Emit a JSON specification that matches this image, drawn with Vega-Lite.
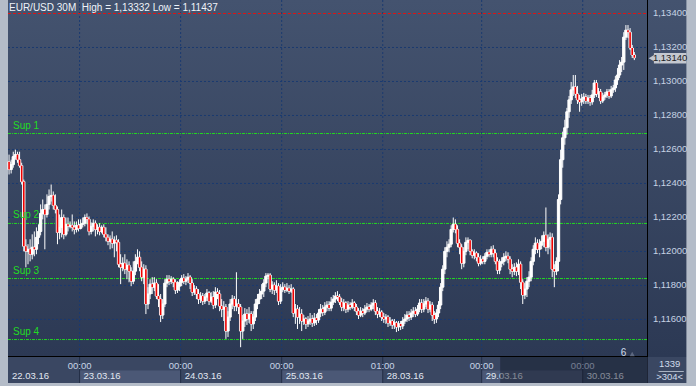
{
"$schema": "https://vega.github.io/schema/vega-lite/v6.json",
"width": 650, "height": 357,
"autosize": "none",
"padding": {"left": 3, "top": 0, "right": 43, "bottom": 29},
"config": {"background": "#b4bcc8", "view": {"stroke": null}, "font": "Liberation Sans", "text": {"font": "Liberation Sans"}},
"datasets": {
"c": [
{"i":0,"o":1.12528,"h":1.1257,"l":1.12453,"c":1.12482},
{"i":1,"o":1.12482,"h":1.1254,"l":1.12459,"c":1.12511},
{"i":2,"o":1.12511,"h":1.12587,"l":1.12493,"c":1.12558},
{"i":3,"o":1.12558,"h":1.12599,"l":1.1254,"c":1.1257},
{"i":4,"o":1.1257,"h":1.12587,"l":1.12522,"c":1.1254},
{"i":5,"o":1.1254,"h":1.12587,"l":1.12493,"c":1.12505},
{"i":6,"o":1.12505,"h":1.12522,"l":1.12394,"c":1.12411},
{"i":7,"o":1.12411,"h":1.12423,"l":1.12001,"c":1.12031},
{"i":8,"o":1.12031,"h":1.12072,"l":1.11907,"c":1.12001},
{"i":9,"o":1.12001,"h":1.12043,"l":1.11925,"c":1.12013},
{"i":10,"o":1.12013,"h":1.12072,"l":1.11942,"c":1.11984},
{"i":11,"o":1.11984,"h":1.12101,"l":1.11954,"c":1.12025},
{"i":12,"o":1.12025,"h":1.12118,"l":1.11972,"c":1.12013},
{"i":13,"o":1.12013,"h":1.12142,"l":1.11984,"c":1.12083},
{"i":14,"o":1.12083,"h":1.1216,"l":1.12043,"c":1.12118},
{"i":15,"o":1.12118,"h":1.12277,"l":1.12095,"c":1.12224},
{"i":16,"o":1.12224,"h":1.12306,"l":1.12189,"c":1.12247},
{"i":17,"o":1.12247,"h":1.12277,"l":1.12013,"c":1.12218},
{"i":18,"o":1.12218,"h":1.12336,"l":1.122,"c":1.12277},
{"i":19,"o":1.12277,"h":1.12365,"l":1.12247,"c":1.12324},
{"i":20,"o":1.12324,"h":1.12394,"l":1.12294,"c":1.1233},
{"i":21,"o":1.1233,"h":1.12353,"l":1.12247,"c":1.12271},
{"i":22,"o":1.12271,"h":1.12336,"l":1.12224,"c":1.12247},
{"i":23,"o":1.12247,"h":1.12265,"l":1.12043,"c":1.12112},
{"i":24,"o":1.12112,"h":1.12218,"l":1.12072,"c":1.12142},
{"i":25,"o":1.12142,"h":1.12247,"l":1.12083,"c":1.122},
{"i":26,"o":1.122,"h":1.12218,"l":1.12072,"c":1.12101},
{"i":27,"o":1.12101,"h":1.122,"l":1.12089,"c":1.1216},
{"i":28,"o":1.1216,"h":1.122,"l":1.12118,"c":1.12148},
{"i":29,"o":1.12148,"h":1.12177,"l":1.12136,"c":1.12154},
{"i":30,"o":1.12154,"h":1.12218,"l":1.12118,"c":1.12142},
{"i":31,"o":1.12142,"h":1.12177,"l":1.12101,"c":1.1213},
{"i":32,"o":1.1213,"h":1.12177,"l":1.12112,"c":1.12154},
{"i":33,"o":1.12154,"h":1.12189,"l":1.12118,"c":1.12136},
{"i":34,"o":1.12136,"h":1.12189,"l":1.1213,"c":1.1216},
{"i":35,"o":1.1216,"h":1.122,"l":1.12142,"c":1.12166},
{"i":36,"o":1.12166,"h":1.12218,"l":1.12148,"c":1.122},
{"i":37,"o":1.122,"h":1.12224,"l":1.1216,"c":1.12189},
{"i":38,"o":1.12189,"h":1.12206,"l":1.12095,"c":1.12118},
{"i":39,"o":1.12118,"h":1.12171,"l":1.12101,"c":1.12148},
{"i":40,"o":1.12148,"h":1.12189,"l":1.12118,"c":1.12166},
{"i":41,"o":1.12166,"h":1.12183,"l":1.12089,"c":1.1213},
{"i":42,"o":1.1213,"h":1.1216,"l":1.12101,"c":1.12142},
{"i":43,"o":1.12142,"h":1.12166,"l":1.12095,"c":1.12118},
{"i":44,"o":1.12118,"h":1.12154,"l":1.12107,"c":1.12142},
{"i":45,"o":1.12142,"h":1.1216,"l":1.12083,"c":1.12101},
{"i":46,"o":1.12101,"h":1.12142,"l":1.1206,"c":1.12083},
{"i":47,"o":1.12083,"h":1.12101,"l":1.12037,"c":1.1206},
{"i":48,"o":1.1206,"h":1.12095,"l":1.12013,"c":1.12072},
{"i":49,"o":1.12072,"h":1.12118,"l":1.12019,"c":1.12049},
{"i":50,"o":1.12049,"h":1.12089,"l":1.11966,"c":1.12066},
{"i":51,"o":1.12066,"h":1.12095,"l":1.12001,"c":1.12054},
{"i":52,"o":1.12054,"h":1.12072,"l":1.11907,"c":1.11925},
{"i":53,"o":1.11925,"h":1.11984,"l":1.11808,"c":1.11907},
{"i":54,"o":1.11907,"h":1.11966,"l":1.11884,"c":1.11931},
{"i":55,"o":1.11931,"h":1.11984,"l":1.11867,"c":1.11896},
{"i":56,"o":1.11896,"h":1.11954,"l":1.11837,"c":1.11919},
{"i":57,"o":1.11919,"h":1.11942,"l":1.11819,"c":1.11884},
{"i":58,"o":1.11884,"h":1.11907,"l":1.11796,"c":1.11825},
{"i":59,"o":1.11825,"h":1.11942,"l":1.11808,"c":1.11884},
{"i":60,"o":1.11884,"h":1.11984,"l":1.11861,"c":1.11942},
{"i":61,"o":1.11942,"h":1.12013,"l":1.11925,"c":1.11966},
{"i":62,"o":1.11966,"h":1.12001,"l":1.11884,"c":1.11907},
{"i":63,"o":1.11907,"h":1.11942,"l":1.11825,"c":1.11849},
{"i":64,"o":1.11849,"h":1.11925,"l":1.11808,"c":1.11896},
{"i":65,"o":1.11896,"h":1.11919,"l":1.11632,"c":1.11691},
{"i":66,"o":1.11691,"h":1.1179,"l":1.11661,"c":1.1175},
{"i":67,"o":1.1175,"h":1.11837,"l":1.1172,"c":1.11808},
{"i":68,"o":1.11808,"h":1.11849,"l":1.1175,"c":1.1179},
{"i":69,"o":1.1179,"h":1.11849,"l":1.11767,"c":1.11814},
{"i":70,"o":1.11814,"h":1.11837,"l":1.1172,"c":1.11738},
{"i":71,"o":1.11738,"h":1.11808,"l":1.11673,"c":1.1172},
{"i":72,"o":1.1172,"h":1.1175,"l":1.11585,"c":1.11626},
{"i":73,"o":1.11626,"h":1.1172,"l":1.11603,"c":1.11691},
{"i":74,"o":1.11691,"h":1.11837,"l":1.11673,"c":1.11814},
{"i":75,"o":1.11814,"h":1.11861,"l":1.1179,"c":1.11837},
{"i":76,"o":1.11837,"h":1.11861,"l":1.11802,"c":1.11825},
{"i":77,"o":1.11825,"h":1.11855,"l":1.11808,"c":1.11837},
{"i":78,"o":1.11837,"h":1.11849,"l":1.1179,"c":1.11819},
{"i":79,"o":1.11819,"h":1.11837,"l":1.1175,"c":1.11773},
{"i":80,"o":1.11773,"h":1.11825,"l":1.11756,"c":1.11796},
{"i":81,"o":1.11796,"h":1.11837,"l":1.11767,"c":1.11819},
{"i":82,"o":1.11819,"h":1.11861,"l":1.11796,"c":1.11843},
{"i":83,"o":1.11843,"h":1.11867,"l":1.11808,"c":1.11825},
{"i":84,"o":1.11825,"h":1.11855,"l":1.11802,"c":1.11837},
{"i":85,"o":1.11837,"h":1.11873,"l":1.11814,"c":1.11849},
{"i":86,"o":1.11849,"h":1.11861,"l":1.11779,"c":1.11814},
{"i":87,"o":1.11814,"h":1.11837,"l":1.11738,"c":1.11761},
{"i":88,"o":1.11761,"h":1.11802,"l":1.11744,"c":1.11779},
{"i":89,"o":1.11779,"h":1.11796,"l":1.1172,"c":1.1175},
{"i":90,"o":1.1175,"h":1.11779,"l":1.11691,"c":1.1172},
{"i":91,"o":1.1172,"h":1.11761,"l":1.11697,"c":1.11738},
{"i":92,"o":1.11738,"h":1.11756,"l":1.11685,"c":1.11708},
{"i":93,"o":1.11708,"h":1.1175,"l":1.11691,"c":1.11732},
{"i":94,"o":1.11732,"h":1.11779,"l":1.11708,"c":1.11756},
{"i":95,"o":1.11756,"h":1.11767,"l":1.11685,"c":1.11708},
{"i":96,"o":1.11708,"h":1.11761,"l":1.11697,"c":1.11732},
{"i":97,"o":1.11732,"h":1.11767,"l":1.11661,"c":1.11685},
{"i":98,"o":1.11685,"h":1.1179,"l":1.11667,"c":1.11761},
{"i":99,"o":1.11761,"h":1.11784,"l":1.1172,"c":1.1175},
{"i":100,"o":1.1175,"h":1.11773,"l":1.11649,"c":1.11679},
{"i":101,"o":1.11679,"h":1.1172,"l":1.11614,"c":1.11661},
{"i":102,"o":1.11661,"h":1.11708,"l":1.11591,"c":1.11673},
{"i":103,"o":1.11673,"h":1.11691,"l":1.11486,"c":1.11532},
{"i":104,"o":1.11532,"h":1.11649,"l":1.11497,"c":1.11614},
{"i":105,"o":1.11614,"h":1.1172,"l":1.11591,"c":1.11691},
{"i":106,"o":1.11691,"h":1.11744,"l":1.11661,"c":1.1172},
{"i":107,"o":1.1172,"h":1.11738,"l":1.11649,"c":1.11679},
{"i":108,"o":1.11679,"h":1.11878,"l":1.11649,"c":1.11691},
{"i":109,"o":1.11691,"h":1.1172,"l":1.11632,"c":1.11673},
{"i":110,"o":1.11673,"h":1.11691,"l":1.11437,"c":1.11532},
{"i":111,"o":1.11532,"h":1.11626,"l":1.11486,"c":1.11591},
{"i":112,"o":1.11591,"h":1.11667,"l":1.11556,"c":1.11632},
{"i":113,"o":1.11632,"h":1.11661,"l":1.11568,"c":1.11603},
{"i":114,"o":1.11603,"h":1.11673,"l":1.1158,"c":1.11632},
{"i":115,"o":1.11632,"h":1.11649,"l":1.11532,"c":1.11574},
{"i":116,"o":1.11574,"h":1.11649,"l":1.11544,"c":1.11614},
{"i":117,"o":1.11614,"h":1.1172,"l":1.11591,"c":1.11691},
{"i":118,"o":1.11691,"h":1.1175,"l":1.11661,"c":1.1172},
{"i":119,"o":1.1172,"h":1.11779,"l":1.11691,"c":1.1175},
{"i":120,"o":1.1175,"h":1.11808,"l":1.1172,"c":1.11767},
{"i":121,"o":1.11767,"h":1.11837,"l":1.11732,"c":1.11814},
{"i":122,"o":1.11814,"h":1.11873,"l":1.1179,"c":1.11855},
{"i":123,"o":1.11855,"h":1.11873,"l":1.11837,"c":1.11861},
{"i":124,"o":1.11861,"h":1.11873,"l":1.11761,"c":1.11779},
{"i":125,"o":1.11779,"h":1.11825,"l":1.1175,"c":1.11802},
{"i":126,"o":1.11802,"h":1.11819,"l":1.11744,"c":1.11773},
{"i":127,"o":1.11773,"h":1.11831,"l":1.11756,"c":1.11796},
{"i":128,"o":1.11796,"h":1.11814,"l":1.11685,"c":1.11708},
{"i":129,"o":1.11708,"h":1.11808,"l":1.11691,"c":1.11779},
{"i":130,"o":1.11779,"h":1.11819,"l":1.11761,"c":1.1179},
{"i":131,"o":1.1179,"h":1.11808,"l":1.11756,"c":1.11773},
{"i":132,"o":1.11773,"h":1.11814,"l":1.11761,"c":1.11784},
{"i":133,"o":1.11784,"h":1.11802,"l":1.1175,"c":1.11767},
{"i":134,"o":1.11767,"h":1.11808,"l":1.11756,"c":1.11779},
{"i":135,"o":1.11779,"h":1.1179,"l":1.11614,"c":1.11638},
{"i":136,"o":1.11638,"h":1.11691,"l":1.11574,"c":1.11661},
{"i":137,"o":1.11661,"h":1.11685,"l":1.11544,"c":1.11614},
{"i":138,"o":1.11614,"h":1.11673,"l":1.11574,"c":1.11632},
{"i":139,"o":1.11632,"h":1.11661,"l":1.11532,"c":1.11591},
{"i":140,"o":1.11591,"h":1.11626,"l":1.11568,"c":1.11603},
{"i":141,"o":1.11603,"h":1.11614,"l":1.11544,"c":1.11574},
{"i":142,"o":1.11574,"h":1.1162,"l":1.11556,"c":1.11591},
{"i":143,"o":1.11591,"h":1.11638,"l":1.11568,"c":1.11603},
{"i":144,"o":1.11603,"h":1.11626,"l":1.11556,"c":1.1158},
{"i":145,"o":1.1158,"h":1.11638,"l":1.11562,"c":1.11608},
{"i":146,"o":1.11608,"h":1.11632,"l":1.11568,"c":1.11597},
{"i":147,"o":1.11597,"h":1.11661,"l":1.1158,"c":1.11638},
{"i":148,"o":1.11638,"h":1.11691,"l":1.11614,"c":1.11661},
{"i":149,"o":1.11661,"h":1.11685,"l":1.1162,"c":1.11643},
{"i":150,"o":1.11643,"h":1.11702,"l":1.11626,"c":1.11673},
{"i":151,"o":1.11673,"h":1.11708,"l":1.11649,"c":1.11685},
{"i":152,"o":1.11685,"h":1.11708,"l":1.11649,"c":1.11667},
{"i":153,"o":1.11667,"h":1.11732,"l":1.11649,"c":1.11702},
{"i":154,"o":1.11702,"h":1.11744,"l":1.11685,"c":1.1172},
{"i":155,"o":1.1172,"h":1.11761,"l":1.11697,"c":1.11738},
{"i":156,"o":1.11738,"h":1.11767,"l":1.11708,"c":1.11732},
{"i":157,"o":1.11732,"h":1.1175,"l":1.11685,"c":1.11702},
{"i":158,"o":1.11702,"h":1.11726,"l":1.11649,"c":1.11673},
{"i":159,"o":1.11673,"h":1.1172,"l":1.11649,"c":1.11697},
{"i":160,"o":1.11697,"h":1.11708,"l":1.11638,"c":1.11661},
{"i":161,"o":1.11661,"h":1.11708,"l":1.11643,"c":1.11685},
{"i":162,"o":1.11685,"h":1.11702,"l":1.11655,"c":1.11673},
{"i":163,"o":1.11673,"h":1.1172,"l":1.11661,"c":1.11697},
{"i":164,"o":1.11697,"h":1.11708,"l":1.11649,"c":1.11673},
{"i":165,"o":1.11673,"h":1.11691,"l":1.11626,"c":1.11649},
{"i":166,"o":1.11649,"h":1.11667,"l":1.11603,"c":1.11626},
{"i":167,"o":1.11626,"h":1.11673,"l":1.11614,"c":1.11649},
{"i":168,"o":1.11649,"h":1.11667,"l":1.11614,"c":1.11638},
{"i":169,"o":1.11638,"h":1.11685,"l":1.11626,"c":1.11661},
{"i":170,"o":1.11661,"h":1.11697,"l":1.11643,"c":1.11673},
{"i":171,"o":1.11673,"h":1.11691,"l":1.11643,"c":1.11661},
{"i":172,"o":1.11661,"h":1.11702,"l":1.11649,"c":1.11685},
{"i":173,"o":1.11685,"h":1.1172,"l":1.11661,"c":1.11697},
{"i":174,"o":1.11697,"h":1.11714,"l":1.11626,"c":1.11649},
{"i":175,"o":1.11649,"h":1.11673,"l":1.11608,"c":1.11632},
{"i":176,"o":1.11632,"h":1.11667,"l":1.11614,"c":1.11643},
{"i":177,"o":1.11643,"h":1.11655,"l":1.11591,"c":1.11614},
{"i":178,"o":1.11614,"h":1.11638,"l":1.1158,"c":1.11603},
{"i":179,"o":1.11603,"h":1.11632,"l":1.11574,"c":1.11614},
{"i":180,"o":1.11614,"h":1.11626,"l":1.11556,"c":1.1158},
{"i":181,"o":1.1158,"h":1.11614,"l":1.11562,"c":1.11591},
{"i":182,"o":1.11591,"h":1.11603,"l":1.11544,"c":1.11568},
{"i":183,"o":1.11568,"h":1.11603,"l":1.11544,"c":1.1158},
{"i":184,"o":1.1158,"h":1.11591,"l":1.11526,"c":1.11556},
{"i":185,"o":1.11556,"h":1.11591,"l":1.11532,"c":1.11574},
{"i":186,"o":1.11574,"h":1.11591,"l":1.11538,"c":1.11562},
{"i":187,"o":1.11562,"h":1.11614,"l":1.11544,"c":1.11591},
{"i":188,"o":1.11591,"h":1.11632,"l":1.11574,"c":1.11603},
{"i":189,"o":1.11603,"h":1.11649,"l":1.11585,"c":1.11626},
{"i":190,"o":1.11626,"h":1.11649,"l":1.11591,"c":1.11614},
{"i":191,"o":1.11614,"h":1.11661,"l":1.11597,"c":1.11638},
{"i":192,"o":1.11638,"h":1.11673,"l":1.11614,"c":1.11649},
{"i":193,"o":1.11649,"h":1.11673,"l":1.11614,"c":1.11632},
{"i":194,"o":1.11632,"h":1.11685,"l":1.1162,"c":1.11661},
{"i":195,"o":1.11661,"h":1.1172,"l":1.11643,"c":1.11697},
{"i":196,"o":1.11697,"h":1.1172,"l":1.11638,"c":1.11661},
{"i":197,"o":1.11661,"h":1.1172,"l":1.11643,"c":1.11691},
{"i":198,"o":1.11691,"h":1.11732,"l":1.11673,"c":1.11708},
{"i":199,"o":1.11708,"h":1.11726,"l":1.11638,"c":1.11661},
{"i":200,"o":1.11661,"h":1.11708,"l":1.11643,"c":1.11685},
{"i":201,"o":1.11685,"h":1.11702,"l":1.11591,"c":1.11626},
{"i":202,"o":1.11626,"h":1.11649,"l":1.11574,"c":1.11603},
{"i":203,"o":1.11603,"h":1.11661,"l":1.1158,"c":1.11638},
{"i":204,"o":1.11638,"h":1.11708,"l":1.11614,"c":1.11685},
{"i":205,"o":1.11685,"h":1.11814,"l":1.11661,"c":1.1179},
{"i":206,"o":1.1179,"h":1.11919,"l":1.11767,"c":1.11896},
{"i":207,"o":1.11896,"h":1.12025,"l":1.11867,"c":1.12001},
{"i":208,"o":1.12001,"h":1.1206,"l":1.11966,"c":1.12025},
{"i":209,"o":1.12025,"h":1.12072,"l":1.11995,"c":1.12043},
{"i":210,"o":1.12043,"h":1.12154,"l":1.12025,"c":1.1213},
{"i":211,"o":1.1213,"h":1.122,"l":1.12112,"c":1.1216},
{"i":212,"o":1.1216,"h":1.12189,"l":1.12107,"c":1.1213},
{"i":213,"o":1.1213,"h":1.12154,"l":1.12025,"c":1.12049},
{"i":214,"o":1.12049,"h":1.12072,"l":1.11984,"c":1.12025},
{"i":215,"o":1.12025,"h":1.12043,"l":1.11896,"c":1.11931},
{"i":216,"o":1.11931,"h":1.12025,"l":1.11907,"c":1.12001},
{"i":217,"o":1.12001,"h":1.12083,"l":1.11978,"c":1.12054},
{"i":218,"o":1.12054,"h":1.12083,"l":1.12013,"c":1.12066},
{"i":219,"o":1.12066,"h":1.12072,"l":1.11978,"c":1.12001},
{"i":220,"o":1.12001,"h":1.12013,"l":1.1196,"c":1.11978},
{"i":221,"o":1.11978,"h":1.12013,"l":1.11954,"c":1.1199},
{"i":222,"o":1.1199,"h":1.12001,"l":1.11942,"c":1.11966},
{"i":223,"o":1.11966,"h":1.1199,"l":1.11913,"c":1.11931},
{"i":224,"o":1.11931,"h":1.11978,"l":1.11919,"c":1.11954},
{"i":225,"o":1.11954,"h":1.11972,"l":1.11925,"c":1.11942},
{"i":226,"o":1.11942,"h":1.1199,"l":1.11925,"c":1.11972},
{"i":227,"o":1.11972,"h":1.12013,"l":1.11954,"c":1.11995},
{"i":228,"o":1.11995,"h":1.12013,"l":1.11966,"c":1.11984},
{"i":229,"o":1.11984,"h":1.12031,"l":1.11966,"c":1.12013},
{"i":230,"o":1.12013,"h":1.12037,"l":1.11966,"c":1.1199},
{"i":231,"o":1.1199,"h":1.12013,"l":1.11925,"c":1.11942},
{"i":232,"o":1.11942,"h":1.11966,"l":1.11867,"c":1.1189},
{"i":233,"o":1.1189,"h":1.11954,"l":1.11867,"c":1.11931},
{"i":234,"o":1.11931,"h":1.11966,"l":1.11907,"c":1.11942},
{"i":235,"o":1.11942,"h":1.1199,"l":1.11919,"c":1.11966},
{"i":236,"o":1.11966,"h":1.12001,"l":1.11942,"c":1.11972},
{"i":237,"o":1.11972,"h":1.11995,"l":1.11931,"c":1.11954},
{"i":238,"o":1.11954,"h":1.11972,"l":1.11867,"c":1.11896},
{"i":239,"o":1.11896,"h":1.11925,"l":1.11849,"c":1.11884},
{"i":240,"o":1.11884,"h":1.11931,"l":1.11861,"c":1.11907},
{"i":241,"o":1.11907,"h":1.11936,"l":1.11855,"c":1.11884},
{"i":242,"o":1.11884,"h":1.11954,"l":1.11861,"c":1.11925},
{"i":243,"o":1.11925,"h":1.11942,"l":1.11779,"c":1.11819},
{"i":244,"o":1.11819,"h":1.11837,"l":1.11691,"c":1.11744},
{"i":245,"o":1.11744,"h":1.11814,"l":1.1172,"c":1.11779},
{"i":246,"o":1.11779,"h":1.11849,"l":1.11732,"c":1.11825},
{"i":247,"o":1.11825,"h":1.11884,"l":1.1179,"c":1.11849},
{"i":248,"o":1.11849,"h":1.11966,"l":1.11825,"c":1.11942},
{"i":249,"o":1.11942,"h":1.12037,"l":1.11919,"c":1.12013},
{"i":250,"o":1.12013,"h":1.12083,"l":1.11984,"c":1.12049},
{"i":251,"o":1.12049,"h":1.12072,"l":1.1199,"c":1.12013},
{"i":252,"o":1.12013,"h":1.12072,"l":1.11966,"c":1.12037},
{"i":253,"o":1.12037,"h":1.12095,"l":1.12013,"c":1.1206},
{"i":254,"o":1.1206,"h":1.12118,"l":1.12025,"c":1.12095},
{"i":255,"o":1.12095,"h":1.12259,"l":1.12001,"c":1.12025},
{"i":256,"o":1.12025,"h":1.12101,"l":1.11984,"c":1.12072},
{"i":257,"o":1.12072,"h":1.12112,"l":1.12013,"c":1.12083},
{"i":258,"o":1.12083,"h":1.12107,"l":1.11849,"c":1.11896},
{"i":259,"o":1.11896,"h":1.11925,"l":1.1179,"c":1.11884},
{"i":260,"o":1.11884,"h":1.11966,"l":1.11861,"c":1.11942},
{"i":261,"o":1.11942,"h":1.12336,"l":1.11884,"c":1.12306},
{"i":262,"o":1.12306,"h":1.12599,"l":1.12277,"c":1.1254},
{"i":263,"o":1.1254,"h":1.12705,"l":1.12493,"c":1.12669},
{"i":264,"o":1.12669,"h":1.12775,"l":1.12628,"c":1.12728},
{"i":265,"o":1.12728,"h":1.12845,"l":1.12687,"c":1.12822},
{"i":266,"o":1.12822,"h":1.12915,"l":1.12786,"c":1.12892},
{"i":267,"o":1.12892,"h":1.12997,"l":1.12868,"c":1.12951},
{"i":268,"o":1.12951,"h":1.13038,"l":1.12915,"c":1.12968},
{"i":269,"o":1.12968,"h":1.13038,"l":1.12903,"c":1.12927},
{"i":270,"o":1.12927,"h":1.12974,"l":1.12868,"c":1.12892},
{"i":271,"o":1.12892,"h":1.12921,"l":1.12822,"c":1.1288},
{"i":272,"o":1.1288,"h":1.12927,"l":1.12857,"c":1.12898},
{"i":273,"o":1.12898,"h":1.12933,"l":1.12868,"c":1.12909},
{"i":274,"o":1.12909,"h":1.12927,"l":1.12868,"c":1.12886},
{"i":275,"o":1.12886,"h":1.12921,"l":1.12868,"c":1.12903},
{"i":276,"o":1.12903,"h":1.12921,"l":1.12857,"c":1.1288},
{"i":277,"o":1.1288,"h":1.12951,"l":1.12863,"c":1.12921},
{"i":278,"o":1.12921,"h":1.13009,"l":1.12903,"c":1.12991},
{"i":279,"o":1.12991,"h":1.13009,"l":1.12909,"c":1.12927},
{"i":280,"o":1.12927,"h":1.12962,"l":1.12903,"c":1.12939},
{"i":281,"o":1.12939,"h":1.12956,"l":1.12868,"c":1.12886},
{"i":282,"o":1.12886,"h":1.12933,"l":1.12874,"c":1.12909},
{"i":283,"o":1.12909,"h":1.12939,"l":1.12892,"c":1.12921},
{"i":284,"o":1.12921,"h":1.12956,"l":1.12903,"c":1.12939},
{"i":285,"o":1.12939,"h":1.12956,"l":1.12898,"c":1.12915},
{"i":286,"o":1.12915,"h":1.12974,"l":1.12903,"c":1.12951},
{"i":287,"o":1.12951,"h":1.1298,"l":1.12933,"c":1.12962},
{"i":288,"o":1.12962,"h":1.13032,"l":1.12939,"c":1.13009},
{"i":289,"o":1.13009,"h":1.13079,"l":1.1298,"c":1.13038},
{"i":290,"o":1.13038,"h":1.13126,"l":1.13021,"c":1.13097},
{"i":291,"o":1.13097,"h":1.13144,"l":1.13056,"c":1.13114},
{"i":292,"o":1.13114,"h":1.1329,"l":1.13068,"c":1.13261},
{"i":293,"o":1.13261,"h":1.13332,"l":1.13244,"c":1.13302},
{"i":294,"o":1.13302,"h":1.13332,"l":1.13255,"c":1.1329},
{"i":295,"o":1.1329,"h":1.13314,"l":1.13185,"c":1.13197},
{"i":296,"o":1.13197,"h":1.13215,"l":1.13138,"c":1.13156},
{"i":297,"o":1.13156,"h":1.13173,"l":1.13126,"c":1.1314}
],
"days": [
{"d":"22.03.16","t":"","s":-0.5,"e":33.5,"n":0},
{"d":"23.03.16","t":"00:00","s":33.5,"e":81.5,"n":1},
{"d":"24.03.16","t":"00:00","s":81.5,"e":129.5,"n":2},
{"d":"25.03.16","t":"00:00","s":129.5,"e":177.5,"n":3},
{"d":"28.03.16","t":"01:00","s":177.5,"e":224.5,"n":4},
{"d":"29.03.16","t":"00:00","s":224.5,"e":272.5,"n":5},
{"d":"30.03.16","t":"00:00","s":272.5,"e":303.5,"n":6}
],
"yt": [
{"p":1.116,"lab":"1,11600"},{"p":1.118,"lab":"1,11800"},{"p":1.12,"lab":"1,12000"},{"p":1.122,"lab":"1,12200"},{"p":1.124,"lab":"1,12400"},
{"p":1.126,"lab":"1,12600"},{"p":1.128,"lab":"1,12800"},{"p":1.13,"lab":"1,13000"},{"p":1.132,"lab":"1,13200"},{"p":1.134,"lab":"1,13400"}
],
"sup": [{"p":1.12694,"lab":"Sup 1"},{"p":1.12165,"lab":"Sup 2"},{"p":1.11841,"lab":"Sup 3"},{"p":1.11482,"lab":"Sup 4"}]
},
"layer": [
{"data":{"values":[{}]},
 "mark":{"type":"rect","color":{"gradient":"linear","x1":0,"y1":0,"x2":0,"y2":1,"stops":[{"offset":0,"color":"#44536f"},{"offset":1,"color":"#2c3954"}]}},
 "encoding":{"x":{"datum":-0.5,"type":"quantitative","scale":{"domain":[-0.5,303.5],"nice":false,"zero":false},"axis":null},"x2":{"datum":321.74},
  "y":{"datum":1.1347941,"type":"quantitative","scale":{"domain":[1.1137941,1.1347941],"nice":false,"zero":false},"axis":null},"y2":{"datum":1.1137941}}},
{"data":{"values":[{}]},
 "mark":{"type":"rect","color":"#3a4762"},
 "encoding":{"x":{"datum":-0.5,"type":"quantitative","scale":{"domain":[-0.5,303.5],"nice":false,"zero":false},"axis":null},"x2":{"datum":321.74},
  "y":{"datum":1.1137941,"type":"quantitative","scale":{"domain":[1.1137941,1.1347941],"nice":false,"zero":false},"axis":null},"y2":{"datum":1.1122647}}},
{"data":{"name":"days"},"transform":[{"filter":"datum.n % 2 == 1"}],
 "mark":{"type":"rect","color":"#4b5876"},
 "encoding":{"x":{"field":"s","type":"quantitative","scale":{"domain":[-0.5,303.5],"nice":false,"zero":false},"axis":null},"x2":{"field":"e"},
  "y":{"datum":1.113,"type":"quantitative","scale":{"domain":[1.1137941,1.1347941],"nice":false,"zero":false},"axis":null},"y2":{"datum":1.1122647}}},
{"data":{"name":"days"},"transform":[{"filter":"datum.n > 0"}],
 "mark":{"type":"rule","color":"#222d45","strokeWidth":1},
 "encoding":{"x":{"field":"s","type":"quantitative","scale":{"domain":[-0.5,303.5],"nice":false,"zero":false},"axis":null},
  "y":{"datum":1.1137941,"type":"quantitative","scale":{"domain":[1.1137941,1.1347941],"nice":false,"zero":false},"axis":null},"y2":{"datum":1.1122647}}},
{"data":{"name":"yt"},"transform":[{"filter":"datum.p < 1.1335"}],
 "mark":{"type":"rule","color":"#1b3a70","strokeWidth":1,"strokeDash":[2,2]},
 "encoding":{"x":{"datum":-0.5,"type":"quantitative","scale":{"domain":[-0.5,303.5],"nice":false,"zero":false},"axis":null},"x2":{"datum":303.5},
  "y":{"field":"p","type":"quantitative","scale":{"domain":[1.1137941,1.1347941],"nice":false,"zero":false},"axis":null}}},
{"data":{"name":"days"},"transform":[{"filter":"datum.n > 0"}],
 "mark":{"type":"rule","color":"#1b3a70","strokeWidth":1,"strokeDash":[2,2]},
 "encoding":{"x":{"field":"s","type":"quantitative","scale":{"domain":[-0.5,303.5],"nice":false,"zero":false},"axis":null},
  "y":{"datum":1.1347941,"type":"quantitative","scale":{"domain":[1.1137941,1.1347941],"nice":false,"zero":false},"axis":null},"y2":{"datum":1.1137941}}},
{"data":{"name":"sup"},
 "mark":{"type":"rule","color":"#22d822","strokeWidth":1,"strokeDash":[3,1,1,1]},
 "encoding":{"x":{"datum":-0.5,"type":"quantitative","scale":{"domain":[-0.5,303.5],"nice":false,"zero":false},"axis":null},"x2":{"datum":303.5},
  "y":{"field":"p","type":"quantitative","scale":{"domain":[1.1137941,1.1347941],"nice":false,"zero":false},"axis":null}}},
{"data":{"values":[{}]},
 "mark":{"type":"rule","color":"#e01414","strokeWidth":1,"strokeDash":[3,2]},
 "encoding":{"x":{"datum":-0.5,"type":"quantitative","scale":{"domain":[-0.5,303.5],"nice":false,"zero":false},"axis":null},"x2":{"datum":303.5},
  "y":{"datum":1.134,"type":"quantitative","scale":{"domain":[1.1137941,1.1347941],"nice":false,"zero":false},"axis":null}}},
{"data":{"name":"c"},
 "mark":{"type":"rule","color":"#ffffff","strokeWidth":1},
 "encoding":{"x":{"field":"i","type":"quantitative","scale":{"domain":[-0.5,303.5],"nice":false,"zero":false},"axis":null},
  "y":{"field":"l","type":"quantitative","scale":{"domain":[1.1137941,1.1347941],"nice":false,"zero":false},"axis":null},"y2":{"field":"h"}}},
{"data":{"name":"c"},
 "mark":{"type":"bar","width":2.3,"color":"#ffffff","stroke":"#ffffff","strokeWidth":1},
 "encoding":{"x":{"field":"i","type":"quantitative","scale":{"domain":[-0.5,303.5],"nice":false,"zero":false},"axis":null},
  "y":{"field":"o","type":"quantitative","scale":{"domain":[1.1137941,1.1347941],"nice":false,"zero":false},"axis":null},"y2":{"field":"c"}}},
{"data":{"name":"c"},"transform":[{"filter":"datum.c < datum.o"}],
 "mark":{"type":"bar","width":1.6,"color":"#ee0000"},
 "encoding":{"x":{"field":"i","type":"quantitative","scale":{"domain":[-0.5,303.5],"nice":false,"zero":false},"axis":null},
  "y":{"field":"o","type":"quantitative","scale":{"domain":[1.1137941,1.1347941],"nice":false,"zero":false},"axis":null},"y2":{"field":"c"}}},
{"data":{"values":[{}]},
 "mark":{"type":"rule","color":"#000000","strokeWidth":1,"yOffset":-0.5},
 "encoding":{"x":{"datum":-0.5,"type":"quantitative","scale":{"domain":[-0.5,303.5],"nice":false,"zero":false},"axis":null},"x2":{"datum":303.5},
  "y":{"datum":1.1137941,"type":"quantitative","scale":{"domain":[1.1137941,1.1347941],"nice":false,"zero":false},"axis":null}}},
{"data":{"values":[{}]},
 "mark":{"type":"rule","color":"#000000","strokeWidth":1,"xOffset":-0.5},
 "encoding":{"x":{"datum":303.5,"type":"quantitative","scale":{"domain":[-0.5,303.5],"nice":false,"zero":false},"axis":null},
  "y":{"datum":1.1347941,"type":"quantitative","scale":{"domain":[1.1137941,1.1347941],"nice":false,"zero":false},"axis":null},"y2":{"datum":1.1137941}}},
{"data":{"name":"yt"},
 "mark":{"type":"text","align":"left","baseline":"middle","fontSize":9.5,"color":"#c6d2e4","font":"Liberation Sans"},
 "encoding":{"x":{"datum":305.83,"type":"quantitative","scale":{"domain":[-0.5,303.5],"nice":false,"zero":false},"axis":null},
  "y":{"field":"p","type":"quantitative","scale":{"domain":[1.1137941,1.1347941],"nice":false,"zero":false},"axis":null},"text":{"field":"lab"}}},
{"data":{"name":"sup"},
 "mark":{"type":"text","align":"left","baseline":"middle","dx":5,"dy":-8,"fontSize":10,"color":"#22dd22","font":"Liberation Sans"},
 "encoding":{"x":{"datum":-0.5,"type":"quantitative","scale":{"domain":[-0.5,303.5],"nice":false,"zero":false},"axis":null},
  "y":{"field":"p","type":"quantitative","scale":{"domain":[1.1137941,1.1347941],"nice":false,"zero":false},"axis":null},"text":{"field":"lab"}}},
{"data":{"values":[{}]},
 "mark":{"type":"text","align":"left","baseline":"middle","dx":1,"dy":8,"fontSize":10,"color":"#eef2f8","font":"Liberation Sans","text":"EUR/USD 30M\u00a0 High = 1,13332 Low = 1,11437"},
 "encoding":{"x":{"datum":-0.5,"type":"quantitative","scale":{"domain":[-0.5,303.5],"nice":false,"zero":false},"axis":null},
  "y":{"datum":1.1347941,"type":"quantitative","scale":{"domain":[1.1137941,1.1347941],"nice":false,"zero":false},"axis":null}}},
{"data":{"name":"days"},"transform":[{"filter":"datum.t != ''"}],
 "mark":{"type":"text","align":"center","baseline":"middle","fontSize":9.5,"color":"#c8d4e6","font":"Liberation Sans"},
 "encoding":{"x":{"field":"s","type":"quantitative","scale":{"domain":[-0.5,303.5],"nice":false,"zero":false},"axis":null},
  "y":{"datum":1.1132941,"type":"quantitative","scale":{"domain":[1.1137941,1.1347941],"nice":false,"zero":false},"axis":null},"text":{"field":"t"}}},
{"data":{"name":"days"},
 "mark":{"type":"text","align":"left","baseline":"middle","dx":4,"fontSize":9.5,"color":"#e2e8f2","font":"Liberation Sans"},
 "encoding":{"x":{"field":"s","type":"quantitative","scale":{"domain":[-0.5,303.5],"nice":false,"zero":false},"axis":null},
  "y":{"datum":1.1126765,"type":"quantitative","scale":{"domain":[1.1137941,1.1347941],"nice":false,"zero":false},"axis":null},"text":{"field":"d"}}},
{"data":{"values":[{}]},
 "mark":{"type":"rect","color":"#0f1626","opacity":0.45},
 "encoding":{"x":{"datum":233.3,"type":"quantitative","scale":{"domain":[-0.5,303.5],"nice":false,"zero":false},"axis":null},"x2":{"datum":303.5},
  "y":{"datum":1.1137941,"type":"quantitative","scale":{"domain":[1.1137941,1.1347941],"nice":false,"zero":false},"axis":null},"y2":{"datum":1.1122647}}},
{"data":{"values":[{}]},
 "mark":{"type":"rule","color":"#1e2536","strokeWidth":1,"xOffset":-0.5},
 "encoding":{"x":{"datum":303.5,"type":"quantitative","scale":{"domain":[-0.5,303.5],"nice":false,"zero":false},"axis":null},
  "y":{"datum":1.1137941,"type":"quantitative","scale":{"domain":[1.1137941,1.1347941],"nice":false,"zero":false},"axis":null},"y2":{"datum":1.1122647}}},
{"data":{"values":[{}]},
 "mark":{"type":"rect","color":"#c4c8d0"},
 "encoding":{"x":{"datum":306.3,"type":"quantitative","scale":{"domain":[-0.5,303.5],"nice":false,"zero":false},"axis":null},"x2":{"datum":321.74},
  "y":{"datum":1.13168,"type":"quantitative","scale":{"domain":[1.1137941,1.1347941],"nice":false,"zero":false},"axis":null},"y2":{"datum":1.13106}}},
{"data":{"values":[{}]},
 "mark":{"type":"point","shape":"triangle-left","filled":true,"size":60,"color":"#c4c8d0","opacity":1},
 "encoding":{"x":{"datum":305.4,"type":"quantitative","scale":{"domain":[-0.5,303.5],"nice":false,"zero":false},"axis":null},
  "y":{"datum":1.13137,"type":"quantitative","scale":{"domain":[1.1137941,1.1347941],"nice":false,"zero":false},"axis":null}}},
{"data":{"values":[{}]},
 "mark":{"type":"text","align":"left","baseline":"middle","fontSize":9.5,"color":"#1c1c1c","font":"Liberation Sans","text":"1,13140"},
 "encoding":{"x":{"datum":305.83,"type":"quantitative","scale":{"domain":[-0.5,303.5],"nice":false,"zero":false},"axis":null},
  "y":{"datum":1.13138,"type":"quantitative","scale":{"domain":[1.1137941,1.1347941],"nice":false,"zero":false},"axis":null}}},
{"data":{"values":[{}]},
 "mark":{"type":"text","align":"center","baseline":"middle","fontSize":10,"color":"#d0dcec","font":"Liberation Sans","text":"6"},
 "encoding":{"x":{"datum":291.9,"type":"quantitative","scale":{"domain":[-0.5,303.5],"nice":false,"zero":false},"axis":null},
  "y":{"datum":1.114047,"type":"quantitative","scale":{"domain":[1.1137941,1.1347941],"nice":false,"zero":false},"axis":null}}},
{"data":{"values":[{}]},
 "mark":{"type":"point","shape":"triangle-up","filled":true,"size":25,"color":"#5d6880","opacity":1},
 "encoding":{"x":{"datum":296.0,"type":"quantitative","scale":{"domain":[-0.5,303.5],"nice":false,"zero":false},"axis":null},
  "y":{"datum":1.1139706,"type":"quantitative","scale":{"domain":[1.1137941,1.1347941],"nice":false,"zero":false},"axis":null}}},
{"data":{"values":[{}]},
 "mark":{"type":"text","align":"center","baseline":"middle","fontSize":9.5,"color":"#d0dcec","font":"Liberation Sans","text":"1339"},
 "encoding":{"x":{"datum":313.8,"type":"quantitative","scale":{"domain":[-0.5,303.5],"nice":false,"zero":false},"axis":null},
  "y":{"datum":1.1133823,"type":"quantitative","scale":{"domain":[1.1137941,1.1347941],"nice":false,"zero":false},"axis":null}}},
{"data":{"values":[{}]},
 "mark":{"type":"rule","color":"#aab4c4","strokeWidth":1},
 "encoding":{"x":{"datum":308.5,"type":"quantitative","scale":{"domain":[-0.5,303.5],"nice":false,"zero":false},"axis":null},"x2":{"datum":320.5},
  "y":{"datum":1.1129412,"type":"quantitative","scale":{"domain":[1.1137941,1.1347941],"nice":false,"zero":false},"axis":null}}},
{"data":{"values":[{}]},
 "mark":{"type":"text","align":"center","baseline":"middle","fontSize":9.5,"color":"#d0dcec","font":"Liberation Sans","text":">304<"},
 "encoding":{"x":{"datum":313.8,"type":"quantitative","scale":{"domain":[-0.5,303.5],"nice":false,"zero":false},"axis":null},
  "y":{"datum":1.1126176,"type":"quantitative","scale":{"domain":[1.1137941,1.1347941],"nice":false,"zero":false},"axis":null}}}
]
}
